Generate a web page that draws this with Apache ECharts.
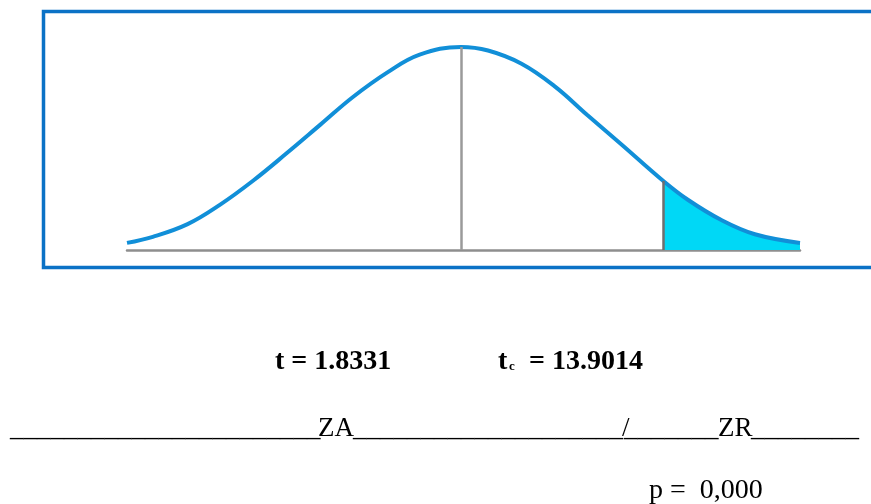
<!DOCTYPE html>
<html>
<head>
<meta charset="utf-8">
<script src="https://cdn.jsdelivr.net/npm/echarts@6/dist/echarts.min.js"></script>
<style>
  html, body { margin: 0; padding: 0; background: #fff; }
  #chartmain { width: 871px; height: 504px; }
</style>
</head>
<body>
<div id="chartmain"></div>
<script>
// curve (z position, height)
var curveX = [-2.59, -2.39, -2.12, -1.87, -1.61, -1.35, -1.09, -0.84, -0.57, -0.32, 0,
              0.21, 0.47, 0.73, 0.98, 1.25, 1.57, 1.76, 2.02, 2.28, 2.63];
var curveY = [0.014, 0.026, 0.051, 0.089, 0.137, 0.191, 0.247, 0.301, 0.350, 0.385, 0.400,
              0.393, 0.367, 0.322, 0.266, 0.207, 0.136, 0.099, 0.059, 0.031, 0.014];
var critZ = 1.57;
var critH = 0.136;
var peakH = 0.400;

var tText = 't = 1.8331';
var tcMain = 't';
var tcSub = 'c';
var tcValue = '= 13.9014';
var zaLine = ['_______________________', 'ZA', '____________________', '/', '_______', 'ZR', '________'];
var pText = 'p =  0,000';

var curve = [], tail = [];
for (var i = 0; i < curveX.length; i++) {
    curve.push([curveX[i], curveY[i]]);
    if (curveX[i] >= critZ) tail.push([curveX[i], curveY[i]]);
}

var serif = '"Liberation Serif", "Times New Roman", serif';

// positions of the pieces of the answer line
var zaPos = [10, 318, 353, 622, 624, 718, 751];
var lineTexts = zaLine.map(function (s, k) {
    return {
        type: 'text', left: zaPos[k], top: 415,
        style: { text: s, font: '27px ' + serif, fill: '#000' }
    };
});

var myChart = echarts.init(document.getElementById('chartmain'));
myChart.setOption({
    animation: false,
    grid: { left: 127, right: 71, top: 47, bottom: 254 },
    xAxis: {
        type: 'value', min: -2.59, max: 2.63,
        axisLine: { show: true, lineStyle: { color: '#8e8e8e', width: 2.5 } },
        axisTick: { show: false }, axisLabel: { show: false }, splitLine: { show: false }
    },
    yAxis: {
        type: 'value', min: 0, max: 0.4, show: false
    },
    series: [{
        name: 'tail',
        type: 'line',
        data: tail,
        smooth: 0.4,
        symbol: 'none',
        lineStyle: { width: 0 },
        areaStyle: { color: '#00d8f6', opacity: 1 },
        z: 1
    }, {
        name: 'curve',
        type: 'line',
        data: curve,
        smooth: 0.4,
        symbol: 'none',
        lineStyle: { color: '#118fd8', width: 4 },
        z: 3,
        markLine: {
            silent: true,
            symbol: 'none',
            label: { show: false },
            data: [
                [{ coord: [0, 0], lineStyle: { color: '#9a9a9a', width: 2.5, type: 'solid' } }, { coord: [0, peakH] }],
                [{ coord: [critZ, 0], lineStyle: { color: '#6e6e6e', width: 2.5, type: 'solid' } }, { coord: [critZ, critH] }]
            ]
        }
    }],
    graphic: [{
        type: 'rect',
        shape: { x: 43.5, y: 11.5, width: 900, height: 256 },
        style: { fill: 'none', stroke: '#0b72c6', lineWidth: 3.5 },
        z: -1
    }, {
        type: 'text', left: 275, top: 348,
        style: { text: tText, font: 'bold 28px ' + serif, fill: '#000' }
    }, {
        type: 'text', left: 498, top: 348,
        style: { text: tcMain, font: 'bold 28px ' + serif, fill: '#000' }
    }, {
        type: 'text', left: 509, top: 360,
        style: { text: tcSub, font: 'bold 13px ' + serif, fill: '#000' }
    }, {
        type: 'text', left: 529, top: 348,
        style: { text: tcValue, font: 'bold 28px ' + serif, fill: '#000' }
    }, {
        type: 'text', left: 649, top: 477,
        style: { text: pText, font: '28px ' + serif, fill: '#000' }
    }].concat(lineTexts)
});
</script>
</body>
</html>
